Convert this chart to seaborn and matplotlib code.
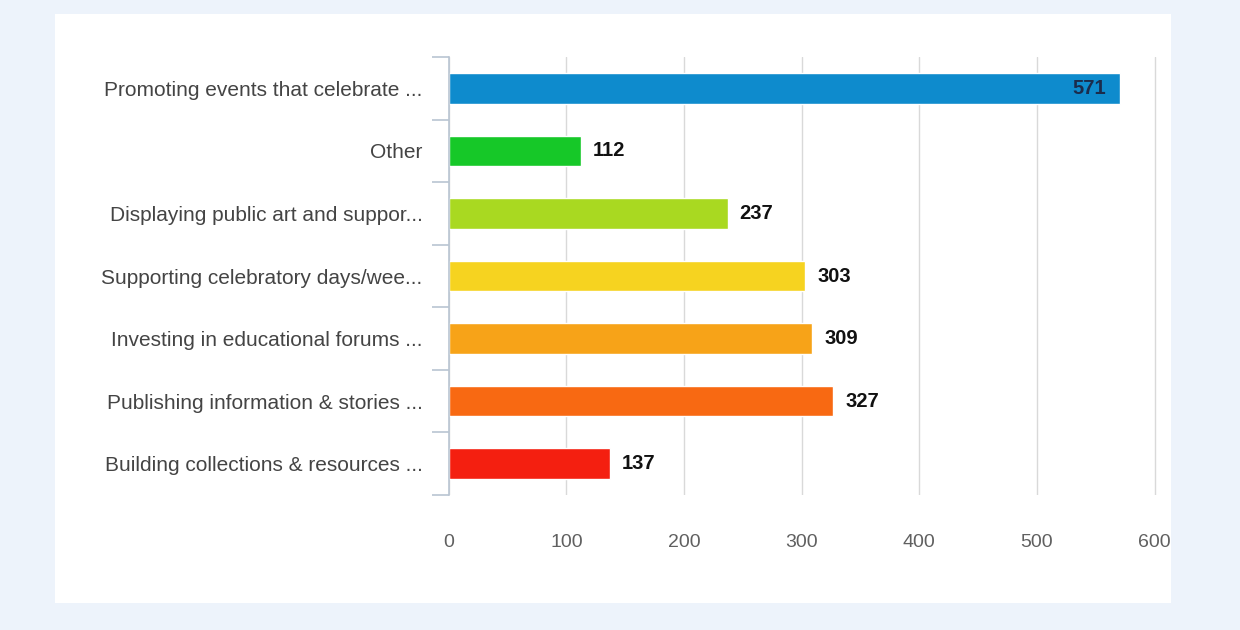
import matplotlib
matplotlib.use("Agg")
import matplotlib.pyplot as plt
import seaborn as sns
import pandas as pd
from matplotlib.patches import Rectangle

# datos
categorias = ["Promoting events that celebrate ...", "Other",
              "Displaying public art and suppor...", "Supporting celebratory days/wee...",
              "Investing in educational forums ...", "Publishing information & stories ...",
              "Building collections & resources ..."]
valores = [571, 112, 237, 303, 309, 327, 137]
colores = ["#0e8bcd", "#16c828", "#a9d921", "#f6d320", "#f7a318", "#f86912", "#f41f10"]
xticks = [0, 100, 200, 300, 400, 500, 600]

sns.set_style("white")
plt.rcParams['font.family'] = ['Liberation Sans', 'DejaVu Sans']

df = pd.DataFrame({"cat": categorias, "val": valores})

fig = plt.figure(figsize=(12.4, 6.3), dpi=100)
fig.patch.set_facecolor("#edf3fb")
# panel blanco
fig.patches.append(Rectangle((0.0444, 0.043), 0.9, 0.935, transform=fig.transFigure,
                             facecolor="white", edgecolor="none", zorder=-10))

ax = fig.add_axes([0.362, 0.2143, 0.571, 0.6952])
ax.set_zorder(5)
sns.barplot(data=df, x="val", y="cat", hue="cat", palette=colores, legend=False,
            width=0.49, saturation=1, ax=ax)

ax.set_xlim(0, 602)
ax.set_ylim(6.5, -0.5)
ax.set_xticks(xticks)
ax.set_xticklabels([str(t) for t in xticks], color="#606060", fontsize=14)
ax.set_xlabel("")
ax.set_ylabel("")
ax.tick_params(axis="y", which="major", length=0, pad=19, labelsize=15, labelcolor="#444444")
ax.tick_params(axis="x", length=0, pad=28)
ax.set_yticks([i + 0.5 for i in range(-1, 7)], minor=True)
ax.tick_params(axis="y", which="minor", left=True, length=12, width=1.2, color="#b9c5d2")
ax.grid(axis="x", color="#d9d9d9", linewidth=1)
ax.set_axisbelow(True)
ax.set_facecolor("none")
for s in ["top", "right", "bottom"]:
    ax.spines[s].set_visible(False)
ax.spines["left"].set_color("#b9c5d2")
ax.spines["left"].set_linewidth(1.2)

for i, v in enumerate(valores):
    if v > 500:
        ax.text(v - 12, i, str(v), ha="right", va="center", fontsize=14.5,
                fontweight="bold", color="#1b2c4c")
    else:
        ax.text(v + 10, i, str(v), ha="left", va="center", fontsize=14.5,
                fontweight="bold", color="#111111")

fig.savefig("out.png", dpi=100, facecolor=fig.get_facecolor())
